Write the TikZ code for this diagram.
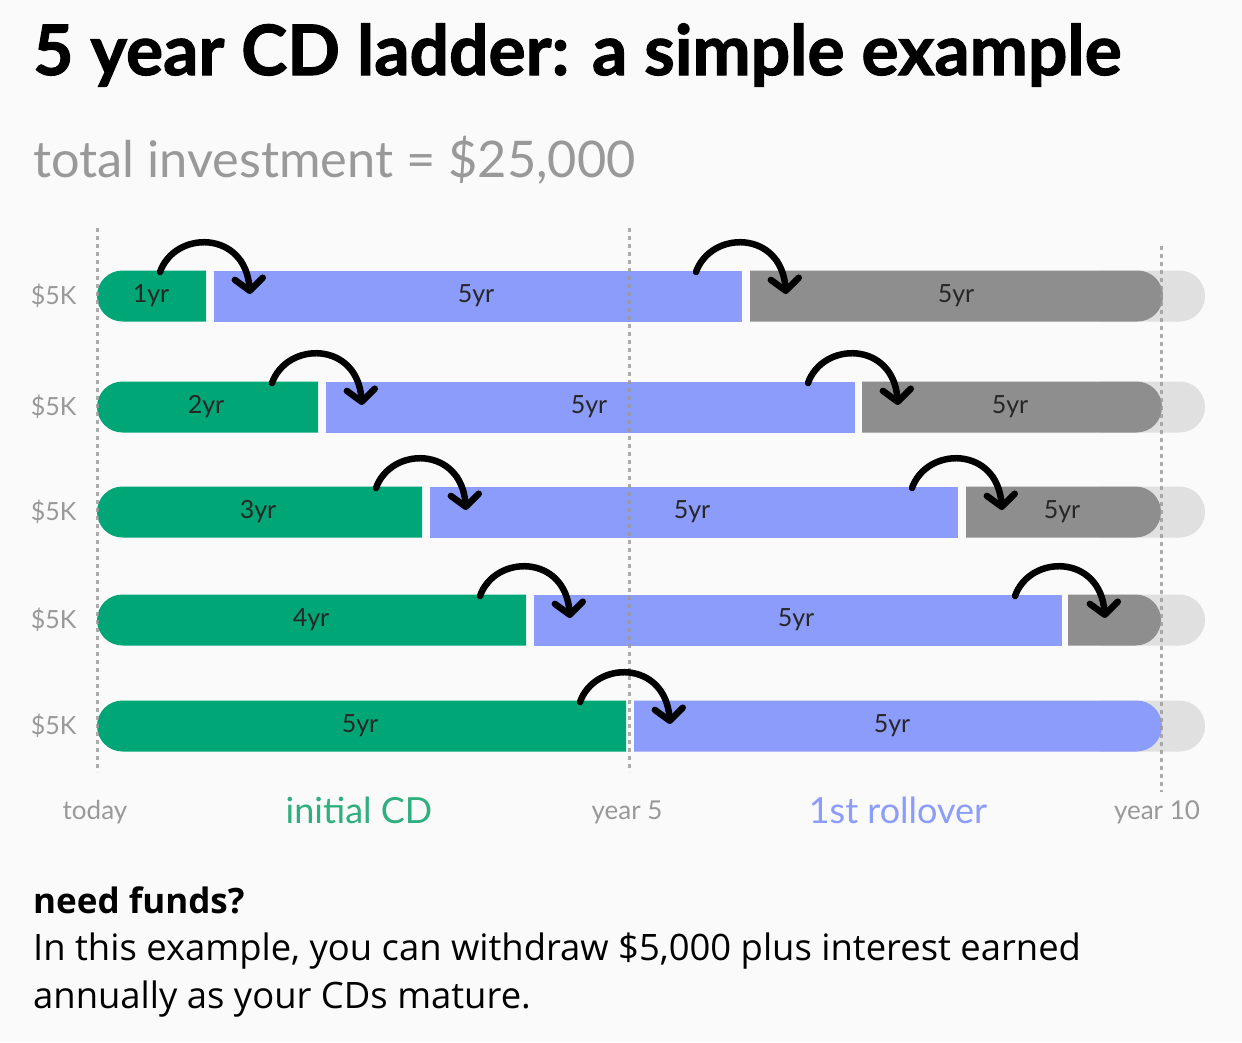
\documentclass[tikz,border=0pt]{standalone}
\usepackage{fontspec}
\setmainfont{Lato}
\newfontfamily\titlefont[FakeBold=1.6]{Lato Bold}
\newfontfamily\bodyfont{Open Sans}
\usetikzlibrary{arrows.meta}
\definecolor{bg}{HTML}{FAFAFA}
\definecolor{cdgreen}{HTML}{00A676}
\definecolor{cdblue}{HTML}{8C9CFB}
\definecolor{cdgray}{HTML}{8E8E8E}
\definecolor{cdghost}{HTML}{E0E0E0}
\definecolor{labgray}{HTML}{999999}
\definecolor{txtgreen}{HTML}{2FAE7E}
\newcommand\barL[4]{\fill[#1] (#3,#4-25.5) -- ({#2+25.5},#4-25.5) arc[start angle=270,end angle=90,radius=25.5] -- (#3,#4+25.5) -- cycle;}
\newcommand\barR[4]{\fill[#1] (#2,#4-25.5) -- ({#3-25.5},#4-25.5) arc[start angle=-90,end angle=90,radius=25.5] -- (#2,#4+25.5) -- cycle;}
\newcommand\barS[4]{\fill[#1] (#2,#4-25.5) rectangle (#3,#4+25.5);}
\newcommand\rollarrow[3]{%
  \coordinate (#3s) at ({#1-50},{#2-24});
  \coordinate (#3e) at ({#1+40},{#2-2});
  \draw[rollarr] (#3s) .. controls ({#1-35},{#2-66}) and ({#1+35},{#2-66}) .. (#3e);}
\tikzset{
  rollarr/.style={line width=6.5pt, line cap=round, black, -{Straight Barb[length=12pt,width=28pt,line cap=round,line join=round]}},
  guide/.style={labgray, line width=3pt, dash pattern=on 4pt off 4pt, opacity=0.8},
  rowlab/.style={labgray, font=\fontsize{25}{30}\selectfont, anchor=east},
  barlab/.style={text=black!85, font=\fontsize{25}{30}\selectfont},
  axlab/.style={labgray, font=\fontsize{26}{30}\selectfont},
}
\begin{document}
\begin{tikzpicture}[x=1pt,y=-1pt]
\fill[bg] (0,0) rectangle (1242,1042);
\useasboundingbox (0,0) rectangle (1242,1042);
% title
\node[anchor=base west, inner sep=0, font=\fontsize{69.5}{74}\titlefont] (title) at (33,75) {5 year CD ladder: a simple example};
\node[anchor=base west, inner sep=0, text=labgray, font=\fontsize{50.5}{56}\selectfont] (total) at (33,177) {total investment = \$25,000};
% ghost ends
\foreach \y in {296,407,512,620,726} {\barR{cdghost}{1100}{1205}{\y}}
% row 1
\barL{cdgreen}{97}{206}{296}
\barS{cdblue}{214}{742}{296}
\barR{cdgray}{750}{1163}{296}
% row 2
\barL{cdgreen}{97}{318}{407}
\barS{cdblue}{326}{855}{407}
\barR{cdgray}{862}{1162}{407}
% row 3
\barL{cdgreen}{97}{422}{512}
\barS{cdblue}{430}{958}{512}
\barR{cdgray}{966}{1161}{512}
% row 4
\barL{cdgreen}{97}{526}{620}
\barS{cdblue}{534}{1062}{620}
\barR{cdgray}{1068}{1161}{620}
% row 5
\barL{cdgreen}{97}{626}{726}
\barR{cdblue}{634}{1162}{726}
% guides
\draw[guide] (97,228) -- (97,772);
\draw[guide] (629,228) -- (629,772);
\draw[guide] (1161,246) -- (1161,792);
% bar labels
\node[barlab] (g1) at (151,296) {1yr};
\node[barlab] (b1) at (476,296) {5yr};
\node[barlab] (y1) at (956,296) {5yr};
\node[barlab] (g2) at (206,407) {2yr};
\node[barlab] (b2) at (589,407) {5yr};
\node[barlab] (y2) at (1010,407) {5yr};
\node[barlab] (g3) at (258,512) {3yr};
\node[barlab] (b3) at (692,512) {5yr};
\node[barlab] (y3) at (1062,512) {5yr};
\node[barlab] (g4) at (311,620) {4yr};
\node[barlab] (b4) at (796,620) {5yr};
\node[barlab] (g5) at (360,726) {5yr};
\node[barlab] (b5) at (892,726) {5yr};
% row labels
\foreach \y/\n in {296/1,407/2,512/3,620/4,726/5} {\node[rowlab] (r\n) at (80,\y) {\$5K};}
% arrows
\rollarrow{210}{296}{a1}
\rollarrow{746}{296}{a2}
\rollarrow{322}{407}{a3}
\rollarrow{858}{407}{a4}
\rollarrow{426}{512}{a5}
\rollarrow{962}{512}{a6}
\rollarrow{530}{620}{a7}
\rollarrow{1065}{620}{a8}
\rollarrow{630}{726}{a9}
% axis labels
\node[axlab] (today) at (95,812) {today};
\node[axlab] (y5) at (627,812) {year 5};
\node[axlab] (y10) at (1157,812) {year 10};
\node[text=txtgreen, font=\fontsize{36}{40}\selectfont] (init) at (359,810) {initial CD};
\node[text=cdblue, font=\fontsize{36}{40}\selectfont] (roll) at (898,810) {1st rollover};
% footer
\node[anchor=base west, inner sep=0, font=\fontsize{35}{40}\bodyfont\bfseries] (need) at (33,913) {need funds?};
\node[anchor=base west, inner sep=0, font=\fontsize{36.4}{40}\bodyfont] (body1) at (33,960) {In this example, you can withdraw \$5,000 plus interest earned};
\node[anchor=base west, inner sep=0, font=\fontsize{36.4}{40}\bodyfont] (body2) at (33,1008) {annually as your CDs mature.};
\end{tikzpicture}
\end{document}
